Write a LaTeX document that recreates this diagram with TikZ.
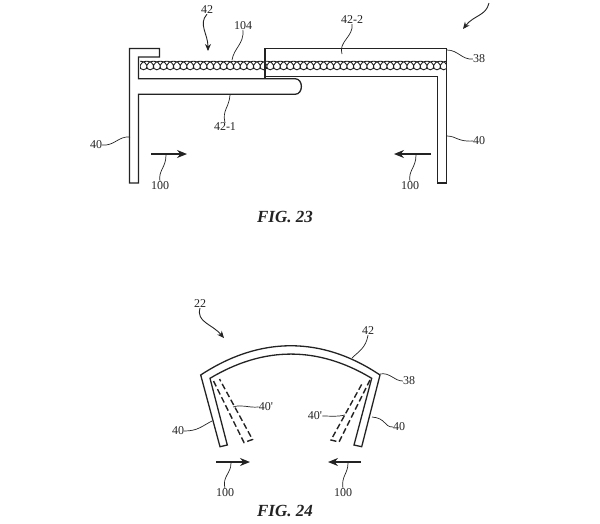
\documentclass[tikz,border=0pt]{standalone}
\usepackage{fontspec}
\setmainfont{Liberation Serif}
\usetikzlibrary{arrows.meta}
\usetikzlibrary{decorations.pathmorphing}
\definecolor{inkColor}{RGB}{35,35,35}
\tikzset{
  wall/.style={draw=inkColor, line width=1.3pt, line join=miter},
  ghost/.style={draw=inkColor, line width=1.4pt, dash pattern=on 6pt off 3pt},
  leader/.style={draw=inkColor, line width=0.7pt},
  pointer/.style={draw=inkColor, line width=0.9pt, -{Stealth[length=7pt,width=6pt]}},
  push/.style={draw=inkColor, line width=1.3pt, -{Stealth[length=10pt,width=8pt]}},
  refnum/.style={text=inkColor, font=\fontsize{12}{12}\selectfont, inner sep=0pt},
  figname/.style={text=inkColor, font=\fontsize{17}{17}\selectfont\bfseries\itshape, inner sep=0pt},
  spring/.style={draw=inkColor, line width=0.9pt, decorate,
    decoration={coil, amplitude=4.3pt, segment length=6.67pt, aspect=1.2}},
}
\begin{document}
\begin{tikzpicture}[x=1pt,y=-1pt]
\useasboundingbox (0,0) rectangle (600,523);

% FIG. 23
\draw [wall] (138.5,183) -- (129.5,183) -- (129.5,48.5) -- (159.5,48.5) -- (159.5,57) -- (138.5,57)
  -- (138.5,78.7) -- (295,78.7) .. controls (303.5,78.7) and (303.5,94.3) .. (295,94.3) -- (138.5,94.3) -- cycle;
\draw [wall] (265,78.7) -- (265,48.5) -- (446.7,48.5) -- (446.7,183) -- (437.7,183) -- (437.7,76.7) -- (265,76.7);
\begin{scope}
\clip (140,56) rectangle (446,75);
\draw [spring] (120,65.5) -- (470,65.5);
\end{scope}

\node [refnum] (num42) at (207,10) {42};
\node [refnum] (num104) at (243,26) {104};
\node [refnum] (num42two) at (352,20) {42-2};
\node [refnum] (num38) at (479,59) {38};
\node [refnum] (num42one) at (225,127) {42-1};
\node [refnum] (wallL) at (96,145) {40};
\node [refnum] (wallR) at (479,141) {40};
\node [refnum] (numPushL) at (160,186) {100};
\node [refnum] (numPushR) at (410,186) {100};
\node [figname] (fig23) at (285,217) {FIG. 23};

\coordinate (tip42) at (208,51);
\coordinate (end104) at (232,60);
\coordinate (end42two) at (342,54);
\coordinate (end38) at (447,50);
\coordinate (end42one) at (230,95);
\coordinate (endWallL) at (130,137);
\coordinate (endWallR) at (447,136);
\coordinate (tipSystem) at (463,29);
\coordinate (startSystem) at (489,3);
\coordinate (pushLa) at (151,154);
\coordinate (pushLb) at (187,154);
\coordinate (pushRa) at (431,154);
\coordinate (pushRb) at (394,154);
\coordinate (endPushL) at (166,155);
\coordinate (endPushR) at (416,155);

\draw [pointer] (num42.south) .. controls (198,24) and (208,34) .. (tip42);
\draw [leader] (num104.south) .. controls (244,44) and (234,48) .. (end104);
\draw [leader] (num42two.south) .. controls (354,36) and (338,42) .. (end42two);
\draw [leader] (num38.west) .. controls (462,60) and (458,50) .. (end38);
\draw [leader] (num42one.north) .. controls (222,110) and (229,108) .. (end42one);
\draw [leader] (wallL.east) .. controls (115,146) and (118,136) .. (endWallL);
\draw [leader] (wallR.west) .. controls (458,142) and (456,136) .. (endWallR);
\draw [pointer] (startSystem) .. controls (486,16) and (474,15) .. (tipSystem);
\draw [push] (pushLa) -- (pushLb);
\draw [push] (pushRa) -- (pushRb);
\draw [leader] (numPushL.north) .. controls (158,170) and (166,168) .. (endPushL);
\draw [leader] (numPushR.north) .. controls (408,170) and (416,168) .. (endPushR);

% FIG. 24
\draw [wall] (220,446.7) -- (200.7,375) .. controls (260,336) and (322,336) .. (380,375) -- (361.7,446.7)
  -- (354,445) -- (371.7,378.3) .. controls (318,346) and (264,346) .. (210,378.3) -- (227.3,445) -- cycle;
\draw [ghost] (213.5,381) -- (244,442.5) -- (252.5,439.5) -- (219.5,379);
\draw [ghost] (370,380) -- (339,442) -- (331,440) -- (363,382);

\node [refnum] (num22) at (200,304) {22};
\node [refnum] (num42b) at (368,331) {42};
\node [refnum] (num38b) at (409,381) {38};
\node [refnum] (ghostL) at (266,407) {40\textquotesingle};
\node [refnum] (ghostR) at (315,416) {40\textquotesingle};
\node [refnum] (wallLb) at (178,431) {40};
\node [refnum] (wallRb) at (399,427) {40};
\node [refnum] (numPushLb) at (225,493) {100};
\node [refnum] (numPushRb) at (343,493) {100};
\node [figname] (fig24) at (285,511) {FIG. 24};

\coordinate (tip22) at (224,338);
\coordinate (end42b) at (352,358);
\coordinate (end38b) at (380,374);
\coordinate (endGhostL) at (233,407);
\coordinate (endGhostR) at (345,415);
\coordinate (endWallLb) at (212,421);
\coordinate (endWallRb) at (372,417);
\coordinate (pushLc) at (216,462);
\coordinate (pushLd) at (250,462);
\coordinate (pushRc) at (361,462);
\coordinate (pushRd) at (328,462);
\coordinate (endPushLb) at (231,463);
\coordinate (endPushRb) at (348,463);

\draw [pointer] (num22.south) .. controls (196,322) and (212,324) .. (tip22);
\draw [leader] (num42b.south) .. controls (366,348) and (358,352) .. (end42b);
\draw [leader] (num38b.west) .. controls (394,381) and (390,372) .. (end38b);
\draw [leader] (ghostL.west) .. controls (248,408) and (242,404) .. (endGhostL);
\draw [leader] (ghostR.east) .. controls (332,416) and (336,417) .. (endGhostR);
\draw [leader] (wallLb.east) .. controls (198,431) and (202,426) .. (endWallLb);
\draw [leader] (wallRb.west) .. controls (384,427) and (386,418) .. (endWallRb);
\draw [push] (pushLc) -- (pushLd);
\draw [push] (pushRc) -- (pushRd);
\draw [leader] (numPushLb.north) .. controls (222,476) and (231,474) .. (endPushLb);
\draw [leader] (numPushRb.north) .. controls (341,476) and (348,474) .. (endPushRb);
\end{tikzpicture}
\end{document}
